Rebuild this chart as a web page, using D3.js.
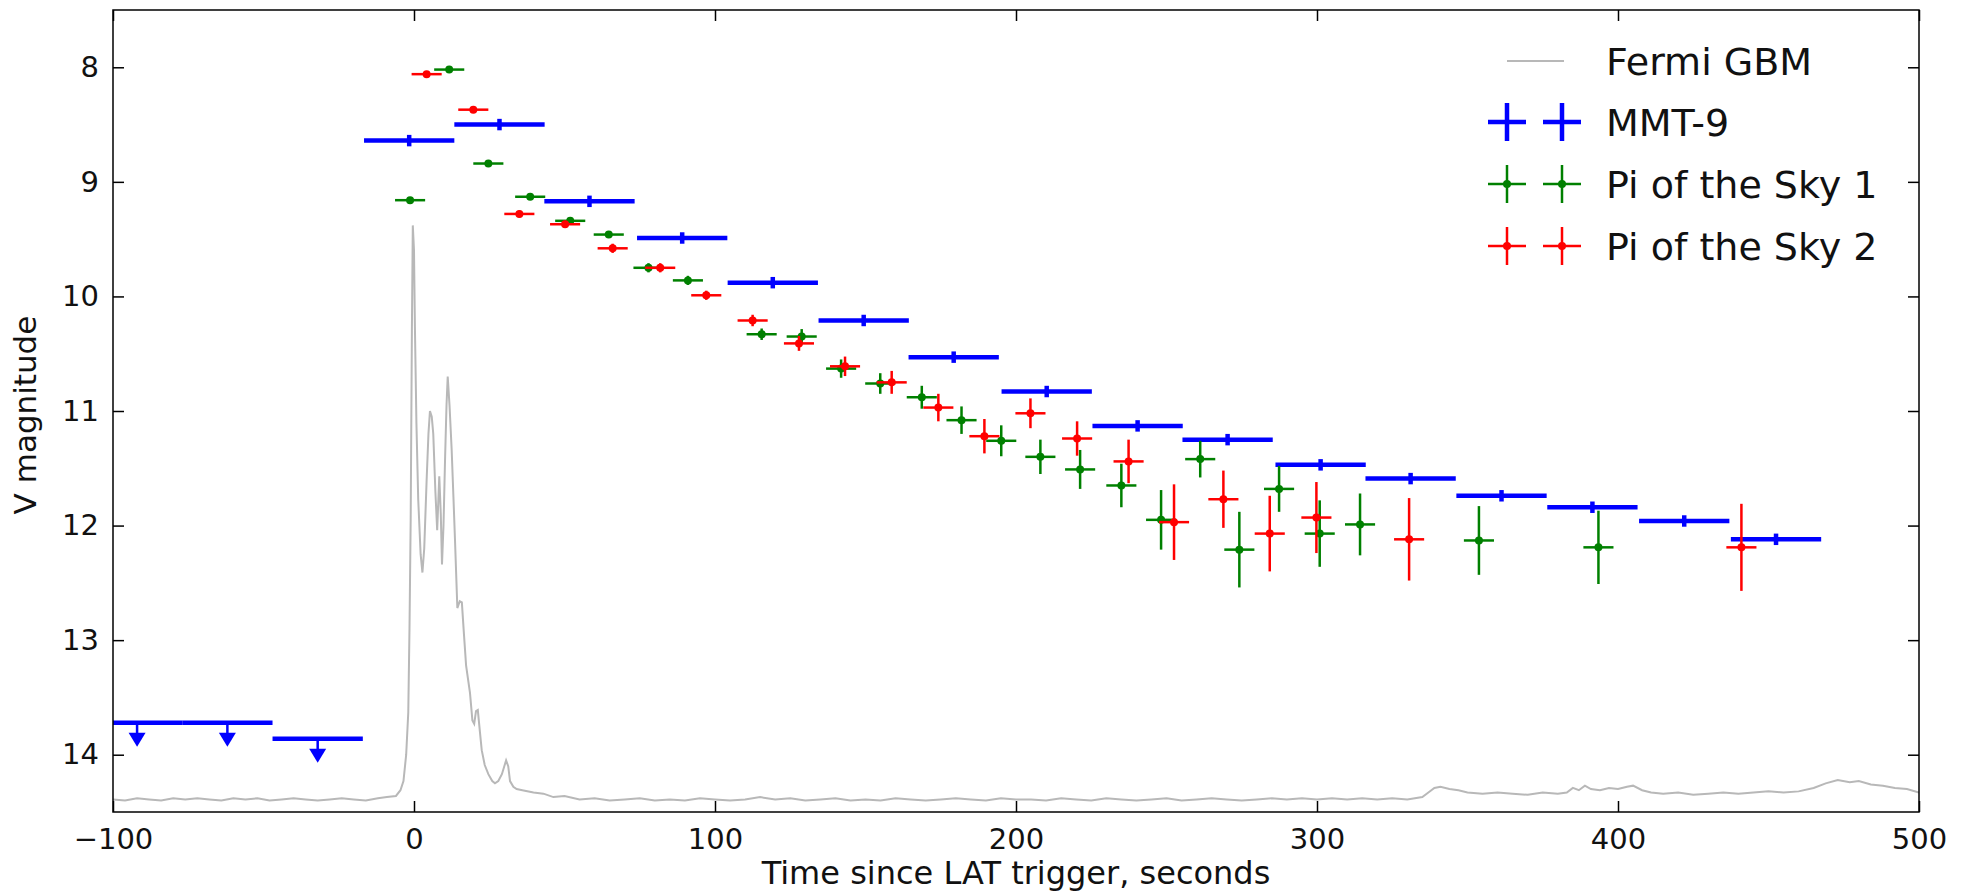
<!DOCTYPE html>
<html>
<head>
<meta charset="utf-8">
<script src="https://cdn.jsdelivr.net/npm/d3@7"></script>
<style>
  html, body { margin: 0; padding: 0; background: #fff; }
  svg { display: block; font-family: "DejaVu Sans", sans-serif; }
</style>
</head>
<body>
<div id="chart"></div>
<script>
// Fermi GBM light curve, scaled onto the magnitude axis
var gbmTime = [-100, -96, -92, -88, -84, -80, -76, -72, -68, -64, -60, -56, -52, -48, -44, -40, -36, -32, -28, -24, -20, -16, -12, -9, -6,
  -4.5, -3.5, -2.6, -1.9, -1.5, -1.1, -0.7, -0.4, 0, 0.3, 0.8, 1.4, 2.2, 2.8, 3.4, 4.2, 4.8, 5.3, 5.9, 6.4, 7.1, 7.7, 8.4, 8.9, 9.3,
  9.8, 10.3, 10.8, 11.2, 11.8, 12.5, 13.1, 13.6, 14.4, 15.2, 15.9, 16.6, 17.3, 18.6, 19.4, 20.0, 20.6, 21.2, 21.9, 22.5, 23.5, 24.7,
  26, 26.9, 28, 29.2, 30.0, 30.6, 31.3, 31.9, 33, 34.1, 36, 39.7, 43, 46.3, 50, 55, 60, 65, 70, 75, 80, 85, 90, 95, 100, 105, 110,
  115, 120, 125, 130, 135, 140, 145, 150, 155, 160, 165, 170, 175, 180, 185, 190, 195, 200, 205, 210, 215, 220, 225, 230, 235, 240,
  245, 250, 255, 260, 265, 270, 275, 280, 285, 290, 295, 300, 305, 310, 315, 320, 325, 330, 335, 337, 339, 341, 344, 347, 350, 355,
  360, 365, 370, 375, 380, 383, 385, 387, 389, 391, 394, 397, 400, 403, 405, 408, 411, 415, 420, 425, 430, 435, 440, 445, 450, 455,
  460, 465, 469, 473, 477, 480, 484, 488, 492, 496, 500];
var gbmMag = [14.39, 14.40, 14.38, 14.39, 14.40, 14.38, 14.39, 14.38, 14.39, 14.40, 14.38, 14.39, 14.38, 14.40, 14.39, 14.38, 14.39, 14.40, 14.39, 14.38, 14.39, 14.40, 14.38, 14.37, 14.36,
  14.31, 14.23, 14.00, 13.63, 12.90, 11.94, 10.30, 9.38, 9.60, 10.26, 11.10, 11.77, 12.25, 12.41, 12.20, 11.60, 11.20, 11.00, 11.05, 11.20, 11.70, 12.04, 11.57, 11.90, 12.34,
  12.00, 11.44, 10.95, 10.70, 10.95, 11.33, 11.75, 12.11, 12.72, 12.66, 12.67, 12.95, 13.22, 13.46, 13.70, 13.73, 13.62, 13.61, 13.80, 13.96, 14.09, 14.17,
  14.23, 14.25, 14.23, 14.17, 14.10, 14.05, 14.10, 14.23, 14.28, 14.30, 14.31, 14.33, 14.34, 14.37, 14.36, 14.39, 14.38, 14.40, 14.39, 14.38, 14.40, 14.39, 14.40, 14.38, 14.39, 14.40, 14.39,
  14.37, 14.39, 14.38, 14.40, 14.39, 14.38, 14.40, 14.39, 14.40, 14.38, 14.39, 14.40, 14.39, 14.38, 14.39, 14.40, 14.38, 14.39, 14.39, 14.40, 14.38, 14.39, 14.40, 14.38, 14.39, 14.40,
  14.39, 14.38, 14.40, 14.39, 14.38, 14.39, 14.40, 14.39, 14.38, 14.39, 14.38, 14.39, 14.38, 14.39, 14.38, 14.39, 14.38, 14.39, 14.37, 14.33, 14.29, 14.28, 14.30, 14.31, 14.33, 14.34,
  14.33, 14.34, 14.35, 14.33, 14.34, 14.33, 14.29, 14.31, 14.27, 14.30, 14.31, 14.29, 14.30, 14.28, 14.27, 14.31, 14.33, 14.34, 14.33, 14.35, 14.34, 14.33, 14.34, 14.33, 14.32, 14.33,
  14.32, 14.29, 14.25, 14.22, 14.24, 14.23, 14.26, 14.27, 14.29, 14.30, 14.33];

// MMT-9: 30 s bins, half width 15 s
var mmtTime = [-1.6, 28.4, 58.3, 89.1, 119.2, 149.4, 179.3, 210.2, 240.4, 270.3, 301.2, 331.1, 361.3, 391.5, 422, 452.5];
var mmtMag = [8.64, 8.50, 9.17, 9.49, 9.88, 10.21, 10.53, 10.83, 11.13, 11.25, 11.47, 11.59, 11.74, 11.84, 11.96, 12.12];
var mmtMagErr = 0.05;
var mmtTimeErr = 15;
// MMT-9 upper limits before the trigger
var limitTime = [-92, -62, -32];
var limitMag = [13.72, 13.72, 13.86];

// Pi of the Sky 1
var pi1Time = [-1.3, 11.7, 24.7, 38.6, 51.9, 64.7, 77.9, 91.0, 115.5, 128.8, 141.9, 154.9, 168.7, 181.9, 195.1, 208.1, 221.3, 235.0,
  248.2, 261.2, 274.2, 287.4, 300.9, 314.3, 353.8, 393.5];
var pi1Mag = [9.16, 8.02, 8.84, 9.13, 9.34, 9.46, 9.75, 9.86, 10.33, 10.35, 10.63, 10.76, 10.88, 11.08, 11.26, 11.40, 11.51, 11.65,
  11.95, 11.42, 12.21, 11.68, 12.07, 11.99, 12.13, 12.19];
var pi1Err = [0.02, 0.02, 0.02, 0.02, 0.03, 0.03, 0.04, 0.04, 0.05, 0.065, 0.08, 0.09, 0.10, 0.12, 0.135, 0.15, 0.17, 0.19,
  0.26, 0.16, 0.33, 0.20, 0.29, 0.27, 0.30, 0.32];

// Pi of the Sky 2
var pi2Time = [4.2, 19.7, 35.0, 50.2, 66.0, 81.8, 97.1, 112.5, 127.9, 143.2, 158.7, 174.2, 189.5, 204.8, 220.3, 237.4, 252.5,
  268.9, 284.3, 299.8, 330.6, 441];
var pi2Mag = [8.06, 8.37, 9.28, 9.37, 9.58, 9.75, 9.99, 10.21, 10.41, 10.61, 10.75, 10.97, 11.22, 11.02, 11.24, 11.44, 11.97,
  11.77, 12.07, 11.93, 12.12, 12.19];
var pi2Err = [0.02, 0.02, 0.03, 0.03, 0.04, 0.04, 0.04, 0.05, 0.065, 0.085, 0.10, 0.12, 0.15, 0.13, 0.15, 0.19, 0.33,
  0.25, 0.33, 0.31, 0.36, 0.38];
var piTimeErr = 5;

var xTicks = [-100, 0, 100, 200, 300, 400, 500];
var yTicks = [8, 9, 10, 11, 12, 13, 14];
var legendLabels = ['Fermi GBM', 'MMT-9', 'Pi of the Sky 1', 'Pi of the Sky 2'];

var W = 1967, H = 894;
var margin = { top: 10, right: 48, bottom: 82, left: 113 };
var width = W - margin.left - margin.right;
var height = H - margin.top - margin.bottom;

var x = d3.scaleLinear().domain([-100, 500]).range([0, width]);
var y = d3.scaleLinear().domain([7.5, 14.5]).range([0, height]);

var svg = d3.select('#chart').append('svg')
  .attr('width', W)
  .attr('height', H);
var g = svg.append('g')
  .attr('transform', 'translate(' + margin.left + ',' + margin.top + ')');

g.append('clipPath').attr('id', 'clip')
  .append('rect').attr('width', width).attr('height', height);
var plot = g.append('g').attr('clip-path', 'url(#clip)');

// GBM curve
var gbm = gbmTime.map(function (t, i) { return [t, gbmMag[i]]; });
plot.append('path')
  .datum(gbm)
  .attr('d', d3.line().x(function (d) { return x(d[0]); }).y(function (d) { return y(d[1]); }))
  .style('fill', 'none')
  .style('stroke', '#b8b8b8')
  .style('stroke-width', 2);

function errorBars(sel, times, mags, tErr, mErr, color, lw) {
  var pts = times.map(function (t, i) {
    return { t: t, m: mags[i], e: Array.isArray(mErr) ? mErr[i] : mErr };
  });
  var grp = sel.append('g').style('stroke', color).style('stroke-width', lw);
  grp.selectAll('.xe').data(pts).enter().append('line')
    .attr('x1', function (d) { return x(d.t - tErr); })
    .attr('x2', function (d) { return x(d.t + tErr); })
    .attr('y1', function (d) { return y(d.m); })
    .attr('y2', function (d) { return y(d.m); });
  grp.selectAll('.ye').data(pts).enter().append('line')
    .attr('x1', function (d) { return x(d.t); })
    .attr('x2', function (d) { return x(d.t); })
    .attr('y1', function (d) { return y(d.m - d.e); })
    .attr('y2', function (d) { return y(d.m + d.e); });
  return pts;
}

// MMT-9
errorBars(plot, mmtTime, mmtMag, mmtTimeErr, mmtMagErr, '#0000ff', 4.5);
var lim = limitTime.map(function (t, i) { return { t: t, m: limitMag[i] }; });
var limG = plot.append('g');
limG.selectAll('.lb').data(lim).enter().append('line')
  .attr('x1', function (d) { return x(d.t - mmtTimeErr); })
  .attr('x2', function (d) { return x(d.t + mmtTimeErr); })
  .attr('y1', function (d) { return y(d.m); })
  .attr('y2', function (d) { return y(d.m); })
  .style('stroke', '#0000ff').style('stroke-width', 4.5);
limG.selectAll('.ls').data(lim).enter().append('line')
  .attr('x1', function (d) { return x(d.t); })
  .attr('x2', function (d) { return x(d.t); })
  .attr('y1', function (d) { return y(d.m); })
  .attr('y2', function (d) { return y(d.m) + 12; })
  .style('stroke', '#0000ff').style('stroke-width', 2.5);
limG.selectAll('.lh').data(lim).enter().append('path')
  .attr('d', function (d) {
    var cx = x(d.t), cy = y(d.m) + 10;
    return 'M' + (cx - 8.5) + ',' + cy + 'L' + (cx + 8.5) + ',' + cy + 'L' + cx + ',' + (cy + 14) + 'Z';
  })
  .style('fill', '#0000ff');

// Pi of the Sky 1 and 2
[[pi1Time, pi1Mag, pi1Err, '#008000'], [pi2Time, pi2Mag, pi2Err, '#ff0000']].forEach(function (s) {
  var pts = errorBars(plot, s[0], s[1], piTimeErr, s[2], s[3], 2.5);
  plot.append('g').selectAll('circle').data(pts).enter().append('circle')
    .attr('cx', function (d) { return x(d.t); })
    .attr('cy', function (d) { return y(d.m); })
    .attr('r', 4)
    .style('fill', s[3]);
});

// axes, matplotlib classic style: ticks inside on all four sides
var tickLen = 11;
g.append('g').attr('transform', 'translate(0,' + height + ')')
  .call(d3.axisBottom(x).tickValues(xTicks).tickSizeInner(-tickLen).tickSizeOuter(0).tickPadding(16))
  .call(function (a) { a.select('.domain').remove(); });
g.append('g')
  .call(d3.axisTop(x).tickValues(xTicks).tickSizeInner(-tickLen).tickSizeOuter(0).tickFormat(''))
  .call(function (a) { a.select('.domain').remove(); });
g.append('g')
  .call(d3.axisLeft(y).tickValues(yTicks).tickFormat(d3.format('d')).tickSizeInner(-tickLen).tickSizeOuter(0).tickPadding(14))
  .call(function (a) { a.select('.domain').remove(); });
g.append('g').attr('transform', 'translate(' + width + ',0)')
  .call(d3.axisRight(y).tickValues(yTicks).tickSizeInner(-tickLen).tickSizeOuter(0).tickFormat(''))
  .call(function (a) { a.select('.domain').remove(); });
g.selectAll('.tick line').style('stroke', '#000').style('stroke-width', 1.5);
g.selectAll('.tick text')
  .style('font-family', '"DejaVu Sans", sans-serif')
  .style('font-size', '29px')
  .style('fill', '#111');

g.append('rect')
  .attr('width', width).attr('height', height)
  .style('fill', 'none').style('stroke', '#000').style('stroke-width', 1.5);

// axis labels
svg.append('text')
  .attr('x', margin.left + width / 2)
  .attr('y', 884)
  .attr('text-anchor', 'middle')
  .style('font-size', '32px').style('fill', '#111')
  .text('Time since LAT trigger, seconds');
svg.append('text')
  .attr('transform', 'translate(36,' + (margin.top + height / 2 + 4) + ') rotate(-90)')
  .attr('text-anchor', 'middle')
  .style('font-size', '31px').style('fill', '#111')
  .text('V magnitude');

// legend
var leg = svg.append('g');
var rowY = [61, 122, 184, 246];
var hx = [1507, 1562];
leg.append('line')
  .attr('x1', 1507).attr('x2', 1564).attr('y1', rowY[0]).attr('y2', rowY[0])
  .style('stroke', '#b8b8b8').style('stroke-width', 2);
[['#0000ff', 4.5, 0], ['#008000', 2.5, 4], ['#ff0000', 2.5, 4]].forEach(function (h, i) {
  var yy = rowY[i + 1];
  hx.forEach(function (cx) {
    leg.append('line').attr('x1', cx - 19).attr('x2', cx + 19).attr('y1', yy).attr('y2', yy)
      .style('stroke', h[0]).style('stroke-width', h[1]);
    leg.append('line').attr('x1', cx).attr('x2', cx).attr('y1', yy - 19).attr('y2', yy + 19)
      .style('stroke', h[0]).style('stroke-width', h[1]);
    if (h[2]) leg.append('circle').attr('cx', cx).attr('cy', yy).attr('r', h[2]).style('fill', h[0]);
  });
});
leg.selectAll('text').data(legendLabels).enter().append('text')
  .attr('x', 1606)
  .attr('y', function (d, i) { return rowY[i] + 14; })
  .style('font-size', '38px').style('fill', '#111')
  .text(function (d) { return d; });
</script>
</body>
</html>
